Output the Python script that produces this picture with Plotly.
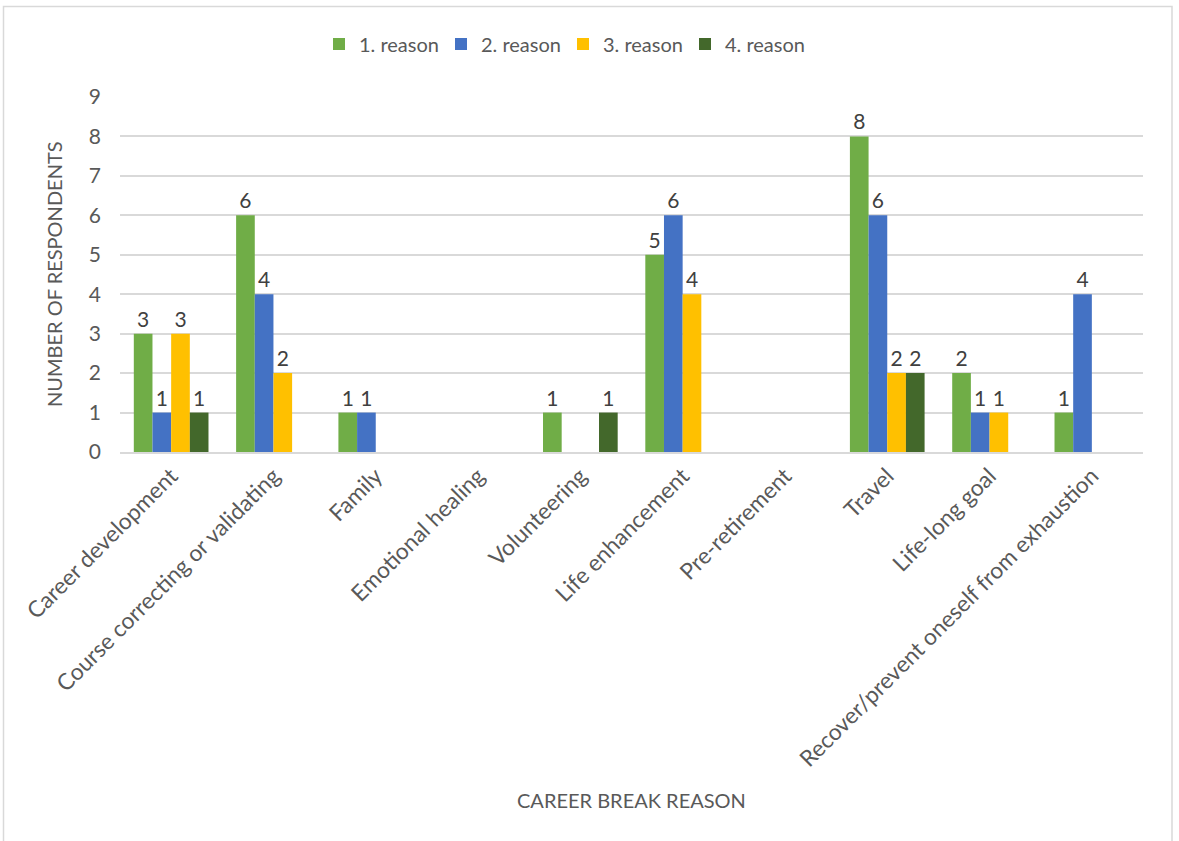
import plotly.graph_objects as go

categories = ["Career development", "Course correcting or validating", "Family",
              "Emotional healing", "Volunteering", "Life enhancement", "Pre-retirement",
              "Travel", "Life-long goal", "Recover/prevent oneself from exhaustion"]
reason1 = [3, 6, 1, None, 1, 5, None, 8, 2, 1]
reason2 = [1, 4, 1, None, None, 6, None, 6, 1, 4]
reason3 = [3, 2, None, None, None, 4, None, 2, 1, None]
reason4 = [1, None, None, None, 1, None, None, 2, None, None]
series_names = ["1. reason", "2. reason", "3. reason", "4. reason"]
colors = ["#70AD47", "#4472C4", "#FFC000", "#43682B"]
y_ticks = list(range(0, 10))

FONT = "Lato, Calibri, Carlito, sans-serif"

fig = go.Figure()
for name, vals, col in zip(series_names, [reason1, reason2, reason3, reason4], colors):
    fig.add_trace(go.Bar(
        x=categories, y=vals, name=name,
        marker=dict(color=col, line=dict(width=0)),
        text=[("" if v is None else str(v)) for v in vals],
        textposition="outside", cliponaxis=False, constraintext="none",
        textfont=dict(family=FONT, size=21, color="#404040"),
    ))

L, R, T, B = 120, 36, 97, 389
W, H = 1179, 841
pw = W - L - R
ph = H - T - B

def px_x(x):
    return (x - L) / pw

def px_y(y):
    return (H - B - y) / ph

fig.update_layout(
    width=W, height=H,
    margin=dict(l=L, r=R, t=T, b=B, autoexpand=False),
    paper_bgcolor="white", plot_bgcolor="white",
    barmode="group", bargap=0.27, bargroupgap=0,
    font=dict(family=FONT, color="#595959"),
    showlegend=True,
    legend=dict(orientation="h", x=px_x(563), xanchor="center", y=px_y(44), yanchor="middle",
                font=dict(family=FONT, size=20, color="#595959"),
                itemwidth=30, entrywidth=77, entrywidthmode="pixels",
                traceorder="normal", bgcolor="rgba(0,0,0,0)"),
    xaxis=dict(tickangle=-45, tickfont=dict(family=FONT, size=22.7, color="#595959"),
               showgrid=False, showline=True, linecolor="#d9d9d9", linewidth=1.5,
               ticks="", automargin=False),
    yaxis=dict(range=[0, 9], tickvals=y_ticks, tickfont=dict(family=FONT, size=21, color="#595959"),
               showgrid=True, gridcolor="#d9d9d9", gridwidth=1.5, zeroline=False,
               showline=False, ticks="", ticklabelstandoff=18, automargin=False),
    annotations=[
        dict(text="CAREER BREAK REASON", xref="paper", yref="paper",
             x=px_x(631), y=px_y(800), xanchor="center", yanchor="middle", showarrow=False,
             font=dict(family=FONT, size=20, color="#595959")),
        dict(text="NUMBER OF RESPONDENTS", xref="paper", yref="paper",
             x=px_x(54), y=px_y(274), xanchor="center", yanchor="middle", showarrow=False,
             textangle=-90, font=dict(family=FONT, size=20, color="#595959")),
    ],
    shapes=[dict(type="rect", xref="paper", yref="paper",
                 x0=px_x(3.5), x1=px_x(1172), y0=px_y(850), y1=px_y(6.5),
                 line=dict(color="#d9d9d9", width=1.5), fillcolor="rgba(0,0,0,0)", layer="below")],
)

fig.write_html("out.html")
